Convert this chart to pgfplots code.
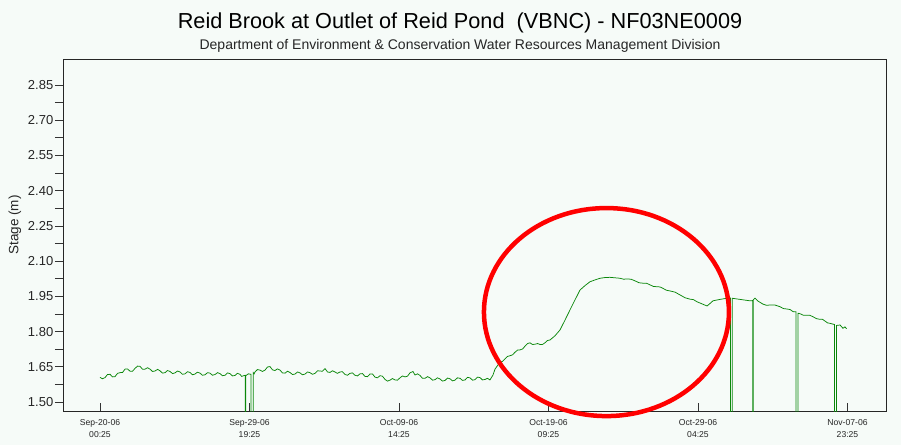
\documentclass[border=0pt]{standalone}
\usepackage{pgfplots}
\pgfplotsset{compat=1.18}
\usepackage{pgfplotstable}
\usepackage{fontspec}
\setmainfont{Liberation Sans}

\definecolor{bgcol}{RGB}{246,251,248}
\definecolor{stagegreen}{RGB}{10,135,10}
\definecolor{ringred}{RGB}{255,0,0}

% Stage record: days since Sep-20-06 00:25, stage in metres
% (instrument dropouts are logged as 1.0 m)
\pgfplotstableread{
d      s
0.00   1.605
0.16   1.599
0.33   1.604
0.49   1.617
0.66   1.618
0.82   1.607
0.98   1.608
1.15   1.622
1.31   1.625
1.48   1.626
1.64   1.640
1.80   1.641
1.97   1.631
2.13   1.631
2.29   1.643
2.46   1.653
2.62   1.652
2.78   1.640
2.95   1.640
3.11   1.646
3.28   1.640
3.44   1.630
3.60   1.632
3.77   1.639
3.93   1.633
4.09   1.623
4.26   1.625
4.42   1.634
4.59   1.630
4.75   1.621
4.91   1.624
5.08   1.632
5.24   1.628
5.40   1.618
5.57   1.620
5.73   1.629
5.89   1.626
6.06   1.616
6.22   1.619
6.38   1.627
6.55   1.623
6.71   1.614
6.88   1.616
7.04   1.625
7.20   1.623
7.37   1.614
7.53   1.617
7.70   1.625
7.86   1.621
8.02   1.612
8.19   1.614
8.35   1.624
8.51   1.621
8.68   1.611
8.84   1.613
9.00   1.622
9.17   1.618
9.28   1.609
9.40   1.612
9.52   1.614
9.52   1.000
9.54   1.000
9.54   1.612
9.72   1.620
9.89   1.618
9.89   1.000
10.04  1.000
10.04  1.625
10.10  1.620
10.15  1.628
10.31  1.638
10.48  1.636
10.64  1.630
10.81  1.636
10.97  1.649
11.13  1.651
11.30  1.637
11.46  1.634
11.62  1.641
11.79  1.636
11.95  1.624
12.12  1.623
12.28  1.631
12.44  1.626
12.61  1.617
12.77  1.619
12.94  1.628
13.10  1.624
13.26  1.616
13.43  1.619
13.59  1.628
13.75  1.625
13.92  1.618
14.08  1.622
14.25  1.633
14.41  1.632
14.57  1.631
14.74  1.642
14.90  1.628
15.06  1.626
15.23  1.633
15.39  1.628
15.55  1.622
15.72  1.628
15.88  1.629
16.05  1.617
16.21  1.614
16.37  1.622
16.54  1.624
16.70  1.614
16.86  1.611
17.03  1.620
17.19  1.621
17.36  1.609
17.52  1.608
17.68  1.619
17.85  1.619
18.01  1.606
18.17  1.603
18.34  1.612
18.50  1.610
18.67  1.596
18.83  1.589
18.99  1.593
19.16  1.600
19.32  1.594
19.48  1.593
19.65  1.603
19.81  1.611
19.98  1.607
20.14  1.610
20.30  1.624
20.50  1.630
20.63  1.615
20.80  1.620
20.96  1.613
21.12  1.601
21.29  1.601
21.45  1.608
21.61  1.603
21.78  1.593
21.94  1.595
22.10  1.603
22.27  1.598
22.43  1.589
22.60  1.592
22.76  1.602
22.92  1.599
23.09  1.590
23.25  1.593
23.41  1.603
23.58  1.601
23.74  1.592
23.91  1.594
24.07  1.605
24.23  1.603
24.40  1.593
24.56  1.595
24.72  1.606
24.89  1.604
25.05  1.594
25.22  1.596
25.38  1.601
25.54  1.594
25.74  1.615
25.87  1.640
26.20  1.670
26.36  1.673
26.52  1.683
26.69  1.694
26.85  1.697
27.02  1.701
27.18  1.712
27.35  1.721
27.51  1.722
27.68  1.726
27.84  1.738
28.00  1.749
28.16  1.752
28.33  1.745
28.49  1.746
28.66  1.749
28.82  1.745
28.98  1.745
29.14  1.752
29.31  1.762
29.47  1.764
29.80  1.782
30.13  1.807
30.45  1.848
30.78  1.892
31.11  1.935
31.44  1.977
31.77  1.996
32.09  2.012
32.42  2.020
32.75  2.027
33.07  2.030
33.40  2.031
33.73  2.029
34.06  2.027
34.29  2.023
34.52  2.024
34.78  2.023
35.04  2.016
35.30  2.008
35.56  2.006
35.79  2.006
36.02  1.999
36.25  1.992
36.48  1.991
36.68  1.990
36.87  1.984
37.10  1.976
37.33  1.973
37.66  1.968
37.99  1.956
38.32  1.944
38.64  1.938
38.87  1.936
39.10  1.927
39.50  1.916
39.76  1.909
39.96  1.920
40.15  1.931
40.61  1.937
41.07  1.942
41.29  1.943
41.29  1.000
41.41  1.000
41.41  1.942
41.59  1.940
41.92  1.937
42.24  1.934
42.57  1.931
42.75  1.932
42.75  1.000
42.78  1.000
42.78  1.935
42.90  1.942
43.09  1.930
43.42  1.917
43.65  1.912
43.88  1.913
44.21  1.913
44.53  1.906
44.76  1.898
44.99  1.896
45.19  1.894
45.39  1.885
45.59  1.884
45.59  1.000
45.72  1.000
45.72  1.878
45.85  1.876
46.05  1.870
46.24  1.870
46.47  1.870
46.70  1.863
46.93  1.855
47.16  1.852
47.32  1.852
47.48  1.845
47.65  1.837
47.81  1.835
48.11  1.830
48.11  1.000
48.24  1.000
48.24  1.826
48.47  1.828
48.66  1.814
48.79  1.820
48.90  1.812
}\stagedata

\begin{document}
\begin{tikzpicture}[x=1pt,y=1pt]
  \fill[bgcol] (0,0) rectangle (901,445);
  \useasboundingbox (0,0) rectangle (901,445);

  \begin{axis}[
    at={(63pt,34pt)}, anchor=south west,
    scale only axis, width=823pt, height=352pt,
    xmin=-2.423, xmax=51.48,
    ymin=1.4617, ymax=2.9608,
    clip mode=individual,
    axis background/.style={fill=bgcol},
    axis line style={black!85, line width=1pt},
    xtick={0,9.7917,19.5833,29.375,39.1667,48.9583},
    xticklabels={{Sep-20-06\\00:25},{Sep-29-06\\19:25},{Oct-09-06\\14:25},
                 {Oct-19-06\\09:25},{Oct-29-06\\04:25},{Nov-07-06\\23:25}},
    xticklabel style={align=center, font=\fontsize{8.6}{12}\selectfont, inner sep=2pt, yshift=-6pt},
    xtick pos=bottom,
    x tick style={black!80, line width=0.8pt},
    ytick={1.50,1.65,1.80,1.95,2.10,2.25,2.40,2.55,2.70,2.85},
    minor y tick num=1,
    ytick pos=left,
    y tick style={black!80, line width=0.8pt},
    yticklabel style={font=\fontsize{13}{15}\selectfont, inner sep=1.5pt,
      /pgf/number format/.cd, fixed, fixed zerofill, precision=2, assume math mode=true},
    xtick align=inside,
    ytick align=outside,
    major tick length=8pt, minor tick length=8pt,
    tick label style={black!85},
  ]
    \addplot[stagegreen, line width=0.75pt, mark=none] table[x=d, y=s] {\stagedata};
    \draw[ringred, line width=4.5pt] (axis cs:33.17,1.883) ellipse [x radius=122.5pt, y radius=104pt];
  \end{axis}

  \node[font=\fontsize{13.5}{15}\selectfont, rotate=90, black!85] at (15,220) {Stage (m)};
  \node[font=\fontsize{21.7}{26}\selectfont, black] at (460,422) {Reid Brook at Outlet of Reid Pond\ \ (VBNC) - NF03NE0009};
  \node[font=\fontsize{14}{16}\selectfont, black!85] at (460,399) {Department of Environment \& Conservation Water Resources Management Division};
\end{tikzpicture}
\end{document}
